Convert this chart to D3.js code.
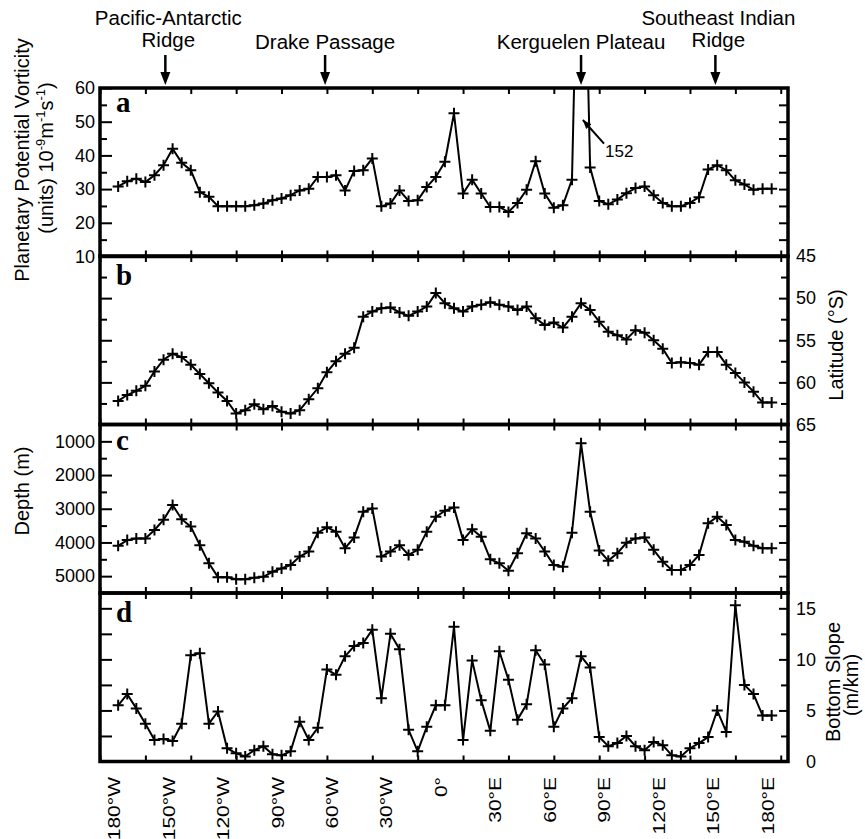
<!DOCTYPE html>
<html>
<head>
<meta charset="utf-8">
<script src="https://cdn.jsdelivr.net/npm/d3@7"></script>
<style>
  body { margin: 0; background: #fff; }
  text { font-family: "Liberation Sans", Arial, sans-serif; fill: #000; }
</style>
</head>
<body>
<svg id="chart" width="865" height="839"></svg>
<script>
// longitudes of the stations along the track (5 degree steps)
const longitudes = [-180,-175,-170,-165,-160,-155,-150,-145,-140,-135,-130,-125,-120,-115,-110,-105,-100,-95,-90,-85,
  -80,-75,-70,-65,-60,-55,-50,-45,-40,-35,-30,-25,-20,-15,-10,-5,0,5,10,15,20,25,30,35,40,45,50,55,60,65,70,75,80,85,
  90,95,100,105,110,115,120,125,130,135,140,145,150,155,160,165,170,175,180];

// a: planetary potential vorticity (10^-9 m^-1 s^-1)
const pvValues = [30.8,32.3,33.1,32.1,34.1,37.1,42.0,37.8,35.6,29.1, 27.7,24.9,24.9,24.9,24.9,25.2,25.7,26.7,27.2,28.2,
  29.6,30.1,33.6,33.6,34.1,29.6,35.4,35.6,39.1,24.9, 25.7,29.6,26.5,26.7,30.6,33.6,38.1,52.5,28.7,32.8,
  28.7,24.7,24.7,23.2,25.9,29.8,38.3,28.7,24.5,25.2, 32.8,152,36.4,26.5,25.5,26.9,28.8,30.3,30.8,28.2,
  25.9,24.9,24.9,25.9,27.6,35.8,37.1,35.6,32.6,31.4, 29.8,30.1,30.1];

// b: latitude (deg S)
const latValues = [62.2,61.5,61.0,60.4,58.7,57.3,56.6,57.0,57.9,59.0, 60.1,61.2,62.2,63.7,63.3,62.6,63.2,62.8,63.5,63.7,
  63.3,62.0,60.7,58.8,57.5,56.6,55.9,52.2,51.6,51.2, 51.1,51.7,52.1,51.6,51.0,49.4,50.6,51.2,51.6,51.0,
  50.8,50.5,50.8,51.0,51.4,51.0,52.4,53.2,52.9,53.5, 52.2,50.6,51.4,52.8,54.0,54.4,54.9,53.8,54.1,55.0,
  56.0,57.7,57.6,57.7,57.9,56.4,56.4,57.9,58.9,60.0, 61.1,62.4,62.4];

// c: depth (m)
const depthValues = [4100,3930,3880,3880,3630,3330,2890,3310,3530,4080, 4620,5030,5030,5090,5090,5050,5020,4870,4770,4670,
  4420,4270,3710,3550,3680,4170,3850,3090,2990,4420, 4270,4080,4370,4220,3680,3240,3060,2960,3930,3610,
  3830,4500,4620,4840,4320,3730,3880,4270,4670,4720, 3710,1060,3090,4240,4540,4320,4010,3880,3850,4220,
  4570,4820,4820,4670,4370,3430,3240,3480,3930,3980, 4100,4170,4170];

// d: bottom slope (m/km)
const slopeValues = [5.5,6.6,5.2,3.7,2.1,2.2,2.0,3.7,10.4,10.6, 3.7,4.9,1.3,0.8,0.5,1.1,1.5,0.7,0.6,1.0,
  3.9,2.1,3.3,9.0,8.5,10.3,11.3,11.6,12.9,6.2, 12.5,11.0,3.1,1.0,3.4,5.5,5.5,13.2,2.1,9.9,
  6.0,3.0,10.8,8.0,4.1,5.6,10.9,9.5,3.4,5.2, 6.2,10.3,9.2,2.4,1.5,1.8,2.5,1.5,1.1,1.9,
  1.6,0.6,0.5,1.3,1.8,2.4,5.0,2.9,15.3,7.5, 6.6,4.5,4.5];

// x axis
const lonTicks = [-190,-165,-140,-115,-90,-65,-40,-15,10,35,60,85,110,135,160,185];
const lonLabelValues = [-180,-150,-120,-90,-60,-30,0,30,60,90,120,150,180];
const lonLabels = ["180°W","150°W","120°W","90°W","60°W","30°W","0°","30°E","60°E","90°E","120°E","150°E","180°E"];

// topographic features marked along the top
const featureNames = [["Pacific-Antarctic", "Ridge"], ["Drake Passage"], ["Kerguelen Plateau"], ["Southeast Indian", "Ridge"]];
const featureLons = [-154, -66, 75, 149];

const svg = d3.select("#chart");
const x = d3.scaleLinear().domain([-190, 189]).range([100, 788]);

const panelTop = [88, 256, 424.5, 593];
const panelH = 168.5;

const panels = [
  { letter: "a", values: pvValues, domain: [10, 60],
    left: { major: [10,20,30,40,50,60], minor: [15,25,35,45,55], labels: true },
    right: { major: [15,20,25,30,35,40,45,50,55], minor: [], labels: false } },
  { letter: "b", values: latValues, domain: [65, 45],
    left: { major: [50,55,60], minor: [47.5,52.5,57.5,62.5], labels: false },
    right: { major: [45,50,55,60,65], minor: [47.5,52.5,57.5,62.5], labels: true } },
  { letter: "c", values: depthValues, domain: [5500, 500],
    left: { major: [1000,2000,3000,4000,5000], minor: [1500,2500,3500,4500], labels: true },
    right: { major: [1000,1500,2000,2500,3000,3500,4000,4500,5000], minor: [], labels: false } },
  { letter: "d", values: slopeValues, domain: [0, 16.5],
    left: { major: [2.5,5,7.5,10,12.5,15], minor: [], labels: false },
    right: { major: [0,5,10,15], minor: [2.5,7.5,12.5], labels: true } }
];

const cross = "M-5.5,0H5.5M0,-5.5V5.5";

panels.forEach((p, k) => {
  const top = panelTop[k], bottom = top + panelH;
  const y = d3.scaleLinear().domain(p.domain).range([bottom, top]);
  const g = svg.append("g");

  // clip so the Kerguelen spike stops at the frame
  svg.append("clipPath").attr("id", "clip" + k)
    .append("rect").attr("x", 100).attr("y", top).attr("width", 688).attr("height", panelH);

  const plot = g.append("g").attr("clip-path", "url(#clip" + k + ")");
  const line = d3.line().x((d, i) => x(longitudes[i])).y(d => y(d));
  plot.append("path").datum(p.values)
    .attr("d", line).attr("fill", "none").attr("stroke", "#000").attr("stroke-width", 2);
  plot.selectAll(".mk").data(p.values).enter().append("path")
    .attr("class", "mk")
    .attr("d", cross)
    .attr("transform", (d, i) => "translate(" + x(longitudes[i]) + "," + y(d) + ")")
    .attr("stroke", "#000").attr("stroke-width", 2);

  // left axis (ticks point inward)
  g.append("g").attr("transform", "translate(100,0)")
    .call(d3.axisLeft(y).tickValues(p.left.major).tickSize(-12).tickPadding(5)
      .tickFormat(p.left.labels ? d3.format("d") : ""));
  g.append("g").attr("transform", "translate(100,0)")
    .call(d3.axisLeft(y).tickValues(p.left.minor).tickSize(-7).tickFormat(""));

  // right axis
  const ra = g.append("g").attr("transform", "translate(788,0)")
    .call(d3.axisRight(y).tickValues(p.right.major).tickSize(-9).tickPadding(5)
      .tickFormat(p.right.labels ? d3.format("d") : ""));
  g.append("g").attr("transform", "translate(788,0)")
    .call(d3.axisRight(y).tickValues(p.right.minor).tickSize(-7).tickFormat(""));
  ra.selectAll("text").attr("text-anchor", "end").attr("x", 28);

  // top and bottom ticks
  g.append("g").attr("transform", "translate(0," + top + ")")
    .call(d3.axisTop(x).tickValues(lonTicks).tickSize(-6).tickFormat(""));
  g.append("g").attr("transform", "translate(0," + bottom + ")")
    .call(d3.axisBottom(x).tickValues(lonTicks).tickSize(-6).tickFormat(""));

  g.selectAll(".domain").remove();
  g.selectAll(".tick line").attr("stroke", "#000").attr("stroke-width", 2);
  g.selectAll(".tick text").style("font-family", "'Liberation Sans', Arial, sans-serif")
    .style("font-size", "18px").attr("fill", "#000");

  // frame
  g.append("rect").attr("x", 100).attr("y", top).attr("width", 688).attr("height", panelH)
    .attr("fill", "none").attr("stroke", "#000").attr("stroke-width", 3.5);

  g.append("text").attr("x", 116).attr("y", [112, 285, 450, 622][k])
    .style("font-family", "'Liberation Serif', 'Times New Roman', serif")
    .style("font-weight", "bold").style("font-size", "29px").text(p.letter);
});

// "152" call-out for the clipped spike
const yA = d3.scaleLinear().domain([10, 60]).range([panelTop[0] + panelH, panelTop[0]]);
svg.append("defs").append("marker").attr("id", "head").attr("viewBox", "0 0 10 10")
  .attr("refX", 10).attr("refY", 5).attr("markerWidth", 9).attr("markerHeight", 9)
  .attr("orient", "auto").attr("markerUnits", "userSpaceOnUse")
  .append("path").attr("d", "M0,1L10,5L0,9Z").attr("fill", "#000");
svg.append("line").attr("x1", 604).attr("y1", yA(43.5)).attr("x2", x(76)).attr("y2", yA(50.5))
  .attr("stroke", "#000").attr("stroke-width", 2).attr("marker-end", "url(#head)");
svg.append("text").attr("x", 605).attr("y", 157).style("font-size", "17px").text(pvValues[51]);

// features along the top
featureNames.forEach((lines, i) => {
  const fx = x(featureLons[i]);
  const t = svg.append("text").attr("text-anchor", "middle").style("font-size", "20.5px");
  lines.forEach((s, j) => {
    t.append("tspan").attr("x", fx + (lines.length > 1 ? 3 : 0))
      .attr("y", lines.length > 1 ? 25 + j * 22 : 49).text(s);
  });
  svg.append("line").attr("x1", fx).attr("x2", fx).attr("y1", 55).attr("y2", 74)
    .attr("stroke", "#000").attr("stroke-width", 2.5);
  svg.append("path").attr("d", "M" + (fx - 5) + ",72L" + fx + ",85L" + (fx + 5) + ",72Z").attr("fill", "#000");
});

// longitude labels
svg.selectAll(".lonlab").data(lonLabelValues).enter().append("text")
  .attr("class", "lonlab")
  .attr("transform", d => "translate(" + (x(d) + 2) + ",777) rotate(-90) scale(1.05,0.85)")
  .attr("text-anchor", "end").style("font-size", "20px")
  .text((d, i) => lonLabels[i]);

// axis titles
svg.append("text").attr("transform", "translate(29,160) rotate(-90)")
  .attr("text-anchor", "middle").style("font-size", "20px").text("Planetary Potential Vorticity");
const unitTitle = svg.append("text").attr("transform", "translate(53,158) rotate(-90)")
  .attr("text-anchor", "middle").style("font-size", "20px");
unitTitle.append("tspan").text("(units) 10");
unitTitle.append("tspan").attr("dy", -8).style("font-size", "13px").text("-9");
unitTitle.append("tspan").attr("dy", 8).text("m");
unitTitle.append("tspan").attr("dy", -8).style("font-size", "13px").text("-1");
unitTitle.append("tspan").attr("dy", 8).text("s");
unitTitle.append("tspan").attr("dy", -8).style("font-size", "13px").text("-1");
unitTitle.append("tspan").attr("dy", 8).text(")");

svg.append("text").attr("transform", "translate(29,491) rotate(-90)")
  .attr("text-anchor", "middle").style("font-size", "20px").text("Depth (m)");
svg.append("text").attr("transform", "translate(843,345) rotate(-90)")
  .attr("text-anchor", "middle").style("font-size", "20px").text("Latitude (°S)");
svg.append("text").attr("transform", "translate(840,682) rotate(-90)")
  .attr("text-anchor", "middle").style("font-size", "20px").text("Bottom Slope");
svg.append("text").attr("transform", "translate(858,685) rotate(-90)")
  .attr("text-anchor", "middle").style("font-size", "20px").text("(m/km)");
</script>
</body>
</html>
